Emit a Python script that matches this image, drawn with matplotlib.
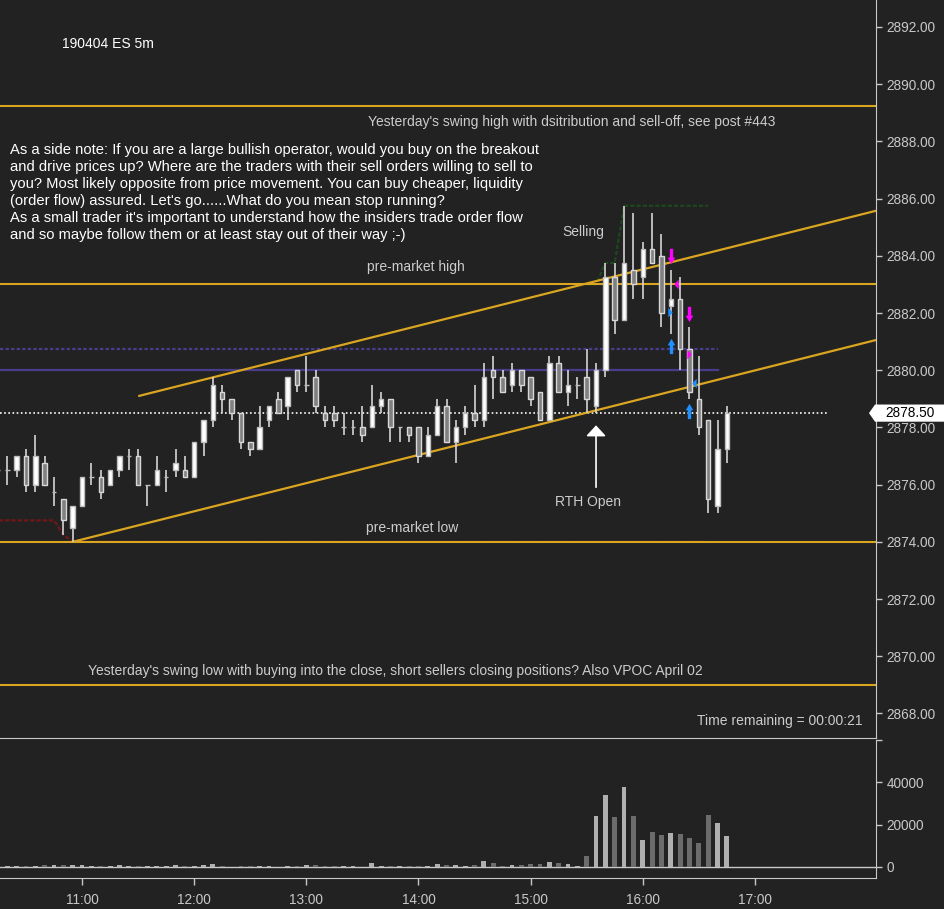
import matplotlib
matplotlib.use("Agg")
import matplotlib.pyplot as plt
import matplotlib.transforms as mtransforms
from matplotlib.patches import Polygon

plt.rcParams['font.family'] = ['Liberation Sans', 'DejaVu Sans']

# 5 minute bars, 10:15 .. 16:45
first_bar = 10.25
bar_step = 5 / 60.0

opens = [2876.5, 2876.5, 2876.5, 2877.0, 2876.0, 2876.75, 2875.75, 2875.5, 2874.5,
         2875.25, 2876.25, 2876.25, 2876.0, 2876.5, 2877.0, 2877.0, 2876.0, 2876.0, 2876.25, 2876.5, 2876.5,
         2876.25, 2877.5, 2878.25, 2879.25, 2879.0, 2878.5, 2877.5, 2877.25, 2878.25, 2879.0, 2878.75, 2880.0,
         2879.5, 2879.75, 2878.5, 2878.5, 2878.0, 2878.0, 2878.0, 2878.0, 2878.75, 2879.0, 2878.0, 2878.0,
         2878.0, 2877.0, 2877.75, 2878.75, 2877.5, 2878.0, 2878.5, 2878.25, 2880.0, 2879.75, 2879.5, 2880.0,
         2879.75, 2879.25, 2878.25, 2880.25, 2879.25, 2879.5, 2879.75, 2878.75, 2880.0, 2883.25, 2881.75, 2883.5,
         2883.25, 2884.25, 2884.0, 2882.25, 2882.5, 2880.75, 2879.0, 2878.25, 2875.25, 2877.25]
highs = [2876.75, 2877.0, 2877.0, 2877.25, 2877.75, 2877.0, 2876.25, 2875.5, 2875.25,
         2876.25, 2876.75, 2876.5, 2876.5, 2877.0, 2877.25, 2877.25, 2876.0, 2877.0, 2876.5, 2877.25, 2877.0,
         2877.5, 2878.25, 2879.75, 2879.5, 2879.0, 2878.5, 2877.5, 2878.75, 2878.75, 2879.25, 2879.75, 2880.0,
         2880.5, 2880.0, 2878.75, 2878.75, 2878.5, 2878.25, 2878.75, 2879.5, 2879.25, 2879.0, 2878.0, 2878.0,
         2878.0, 2878.0, 2879.0, 2879.0, 2878.25, 2878.75, 2879.5, 2880.25, 2880.5, 2880.0, 2880.25, 2880.0,
         2879.75, 2879.25, 2880.5, 2880.5, 2880.0, 2879.75, 2880.75, 2880.25, 2883.75, 2883.75, 2885.75, 2885.5,
         2884.5, 2885.5, 2884.75, 2883.5, 2883.25, 2881.5, 2880.5, 2878.25, 2878.25, 2878.75]
lows = [2876.25, 2876.0, 2876.25, 2875.75, 2875.75, 2876.0, 2875.25, 2874.25, 2874.0,
        2875.25, 2876.0, 2875.5, 2876.0, 2876.25, 2876.5, 2876.0, 2875.25, 2876.0, 2875.75, 2876.25, 2876.25,
        2876.25, 2877.0, 2878.0, 2878.5, 2878.25, 2877.25, 2877.0, 2877.25, 2878.0, 2878.5, 2878.25, 2879.25,
        2879.25, 2878.5, 2878.0, 2878.0, 2877.75, 2877.75, 2877.5, 2878.0, 2878.5, 2877.5, 2877.5, 2877.5,
        2876.75, 2877.0, 2877.75, 2877.5, 2876.75, 2877.75, 2878.0, 2878.0, 2879.0, 2879.25, 2879.25, 2879.25,
        2878.75, 2878.25, 2878.25, 2879.25, 2878.75, 2879.0, 2878.5, 2878.5, 2879.75, 2881.25, 2881.75, 2882.5,
        2882.5, 2883.75, 2881.5, 2881.25, 2880.0, 2879.0, 2877.75, 2875.0, 2875.0, 2876.75]
closes = [2876.5, 2876.5, 2877.0, 2876.0, 2877.0, 2876.0, 2875.75, 2874.75, 2875.25,
          2876.25, 2876.25, 2875.75, 2876.5, 2877.0, 2877.0, 2876.0, 2876.0, 2876.5, 2876.25, 2876.75, 2876.25,
          2877.5, 2878.25, 2879.5, 2879.0, 2878.5, 2877.5, 2877.25, 2878.0, 2878.75, 2878.5, 2879.75, 2879.5,
          2879.5, 2878.75, 2878.25, 2878.25, 2878.0, 2878.0, 2877.75, 2878.75, 2879.0, 2878.0, 2878.0, 2877.75,
          2877.0, 2877.75, 2878.75, 2877.5, 2878.0, 2878.5, 2878.25, 2879.75, 2879.75, 2879.25, 2880.0, 2879.5,
          2879.0, 2878.25, 2880.25, 2879.25, 2879.5, 2879.5, 2879.0, 2880.0, 2883.25, 2881.75, 2883.75, 2883.0,
          2884.25, 2883.75, 2882.0, 2882.5, 2880.75, 2879.25, 2878.0, 2875.5, 2877.25, 2878.5]
volumes = [600, 600, 300, 600, 600, 1100, 1100, 1100, 1100,
           1100, 600, 600, 600, 1100, 600, 600, 600, 600, 600, 1100, 600,
           600, 1100, 1600, 600, 200, 600, 600, 600, 300, 200, 600, 600,
           1100, 1100, 600, 600, 600, 600, 200, 2000, 600, 600, 600, 600,
           600, 600, 1600, 1100, 1100, 600, 1100, 3000, 2000, 600, 1100, 1100,
           1600, 1600, 2500, 2000, 1600, 600, 5300, 24100, 34000, 23600, 37800, 24100,
           12800, 16500, 15100, 16100, 15600, 13700, 11300, 24600, 20800, 14600]

# running session low (dark red) and high (dark green)
low_line = [2874.75] * 7 + [2874.25] + [2874.0] * 69
high_line_start = 63
high_line = [2883.0, 2883.0, 2883.75, 2883.75] + [2885.75] * 10

# horizontal levels
swing_high = 2889.25
premarket_high = 2883.0
premarket_low = 2874.0
swing_low = 2869.0
vpoc_solid = 2880.0
vpoc_dotted = 2880.75
last_price = 2878.5

# channel: anchors and slope (points per hour)
channel_slope = 0.985
lower_anchor = (10.9167, 2874.0)
upper_anchor = (12.1667, 2879.75)
upper_start = 11.51

# order flow signals (time, price)
mag_down = [(16.25, 2883.99), (16.4167, 2881.95)]
blue_up = [(16.25, 2880.83), (16.4167, 2878.59)]
mag_left = [(16.295, 2883.03)]
mag_right = [(16.41, 2880.57)]
blue_right = [(16.241, 2882.03)]
blue_left = [(16.46, 2879.55)]

note = ("As a side note: If you are a large bullish operator, would you buy on the breakout\n"
        "and drive prices up? Where are the traders with their sell orders willing to sell to\n"
        "you? Most likely opposite from price movement. You can buy cheaper, liquidity\n"
        "(order flow) assured. Let's go......What do you mean stop running?\n"
        "As a small trader it's important to understand how the insiders trade order flow\n"
        "and so maybe follow them or at least stay out of their way ;-)")

bg = '#222222'
axis_col = '#c8c8c8'
gold = '#daa520'
purple = '#483d8b'

times = [first_bar + i * bar_step for i in range(len(opens))]
xmin, xmax = 10.268, 18.08

fig = plt.figure(figsize=(9.44, 9.09), dpi=100, facecolor=bg)
ax = fig.add_axes([0, 0.1881, 876 / 944, 0.8119])
axv = fig.add_axes([0, 0.0341, 876 / 944, 0.1518])

for a in (ax, axv):
    a.set_facecolor(bg)
    a.spines['top'].set_visible(False)
    a.spines['left'].set_visible(False)
    a.spines['right'].set_color(axis_col)
    a.spines['bottom'].set_color(axis_col)
    a.yaxis.tick_right()
    a.tick_params(colors=axis_col, labelsize=9.8, length=4, width=1)
    a.set_xlim(xmin, xmax)

# horizontal levels
for lvl in (swing_high, premarket_high, premarket_low, swing_low):
    ax.axhline(lvl, color=gold, lw=1.5, zorder=3)
end_levels = times[-2]
ax.plot([xmin, end_levels], [vpoc_solid, vpoc_solid], color=purple, lw=1.6, zorder=2)
ax.plot([xmin, end_levels], [vpoc_dotted, vpoc_dotted], color=purple, lw=1.6, ls=(0, (1.5, 1)), zorder=2)
ax.plot([xmin, 17.64], [last_price, last_price], color='white', lw=1.2, ls=(0, (1, 1.5)), zorder=2)

# running high/low
ax.plot(times[:len(low_line)], low_line, color='#7a1515', lw=1.5, ls=(0, (2, 1)), zorder=2)
ax.plot(times[high_line_start:high_line_start + len(high_line)], high_line,
        color='#1c4a1c', lw=1.5, ls=(0, (2, 1)), zorder=2)

# channel
lx = [lower_anchor[0], xmax]
ax.plot(lx, [lower_anchor[1] + channel_slope * (x - lower_anchor[0]) for x in lx], color=gold, lw=1.6, zorder=3)
ux = [upper_start, xmax]
ax.plot(ux, [upper_anchor[1] + channel_slope * (x - upper_anchor[0]) for x in ux], color=gold, lw=1.6, zorder=3)

# candles
body_w = 0.04
for t, o, h, l, c in zip(times, opens, highs, lows, closes):
    ax.vlines(t, l, h, color='#d4d4d4', lw=1.2, zorder=4)
    if c >= o:
        face, edge = '#ffffff', '#bdbdbd'
    else:
        face, edge = '#808080', '#d8d8d8'
    ax.bar(t, abs(c - o), bottom=min(o, c), width=body_w, color=face, edgecolor=edge, lw=1, zorder=5)

# signals
up_arrow = [(-0.22, -1), (0.22, -1), (0.22, 0.15), (0.5, 0.15), (0, 1), (-0.5, 0.15), (-0.22, 0.15)]
down_arrow = [(x, -y) for x, y in up_arrow]
tri_left = [(0.45, -1), (0.45, 1), (-0.45, 0)]
tri_right = [(-0.45, -1), (-0.45, 1), (0.45, 0)]
for pts, mk, col, ms in ((mag_down, down_arrow, '#ff00ff', 11), (blue_up, up_arrow, '#1e90ff', 11),
                         (mag_left, tri_left, '#ff00ff', 7), (mag_right, tri_right, '#ff00ff', 7),
                         (blue_right, tri_right, '#1e90ff', 7), (blue_left, tri_left, '#1e90ff', 7)):
    ax.plot([p[0] for p in pts], [p[1] for p in pts], ls='none', marker=mk, ms=ms,
            color=col, mec='none', zorder=6)

# RTH open arrow
ax.annotate('', xy=(15.5833, 2878.17), xytext=(15.5833, 2875.81),
            arrowprops=dict(arrowstyle='-|>,head_width=0.6,head_length=0.65', color='white', lw=1.2),
            zorder=6)

# texts
txt_col = '#cccccc'
ax.text(10.821, 2891.41, '190404 ES 5m', color='white', fontsize=10, va='center', ha='left')
ax.text(10.357, 2887.95, note, color='white', fontsize=10.6, va='top', ha='left', linespacing=1.28)
ax.text(15.366, 2888.68, "Yesterday's swing high with dsitribution and sell-off, see post #443",
        color=txt_col, fontsize=10, ha='center', va='center')
ax.text(13.973, 2883.61, 'pre-market high', color=txt_col, fontsize=10, ha='center', va='center')
ax.text(13.946, 2874.48, 'pre-market low', color=txt_col, fontsize=10, ha='center', va='center')
ax.text(15.473, 2884.83, 'Selling', color=txt_col, fontsize=10, ha='center', va='center')
ax.text(15.509, 2875.39, 'RTH Open', color=txt_col, fontsize=10, ha='center', va='center')
ax.text(13.795, 2869.48, "Yesterday's swing low with buying into the close, short sellers closing positions? "
        "Also VPOC April 02", color=txt_col, fontsize=10, ha='center', va='center')
ax.text(17.964, 2867.73, 'Time remaining = 00:00:21', color=txt_col, fontsize=10, ha='right', va='center')

# price axis
ax.set_ylim(2867.14, 2892.944)
ax.set_yticks(range(2868, 2893, 2))
ax.set_yticklabels(['%.2f' % v for v in range(2868, 2893, 2)])
ax.set_xticks([])

# last price box
tr = mtransforms.blended_transform_factory(fig.transFigure, ax.transData)
x0, x1 = 869 / 944, 875 / 944
half = 0.30
box = Polygon([(x0, last_price), (x1, last_price + half), (1.0, last_price + half),
               (1.0, last_price - half), (x1, last_price - half)],
              closed=True, transform=tr, facecolor='white', edgecolor='none', clip_on=False, zorder=10)
fig.patches.append(box)
fig.text(885 / 944, 0, '%.2f' % last_price, transform=tr, color='black', fontsize=9.8,
         va='center', ha='left', zorder=11).set_y(last_price)

# volume
vol_cols = ['#b0b0b0' if c >= o else '#6c6c6c' for o, c in zip(opens, closes)]
axv.bar(times, volumes, width=0.043, color=vol_cols, zorder=3)
axv.axhline(0, color=axis_col, lw=1, zorder=2)
axv.set_ylim(-5200, 60000)
axv.set_yticks([0, 20000, 40000, 60000])
axv.set_yticklabels(['0', '20000', '40000', ''])
hours = list(range(11, 18))
axv.set_xticks(hours)
axv.set_xticklabels(['%d:00' % h for h in hours])
axv.tick_params(axis='x', length=5, pad=6)

fig.savefig('out.png', dpi=100, facecolor=bg)
